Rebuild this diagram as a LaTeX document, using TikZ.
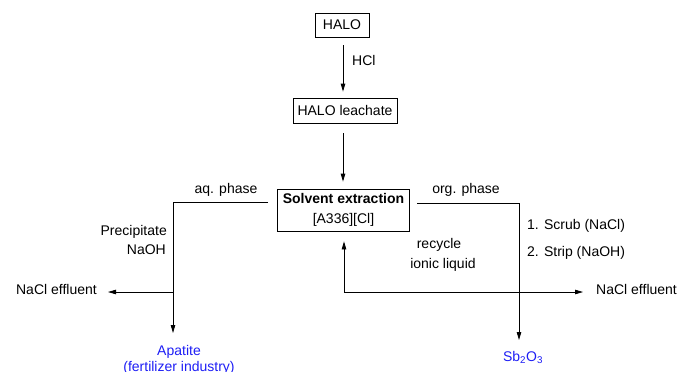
\documentclass[tikz,border=0pt]{standalone}
\usepackage{fontspec}
\setmainfont{Liberation Sans}
\usetikzlibrary{arrows.meta}
\definecolor{prodblue}{RGB}{30,30,245}
\begin{document}
\begin{tikzpicture}[x=1pt,y=-1pt,
  font=\fontsize{14}{16}\selectfont,
  box/.style={draw, line width=0.8pt, inner sep=0pt, anchor=center},
  lbl/.style={inner sep=0pt, anchor=mid},
  lblw/.style={inner sep=0pt, anchor=mid west},
  lble/.style={inner sep=0pt, anchor=mid east},
  prod/.style={inner sep=0pt, text=prodblue, align=center},
  arr/.style={line width=0.8pt, -{Triangle[length=8pt,width=4.5pt]}}]
\useasboundingbox (0,0) rectangle (680,372);
% boxes
\node[box, minimum width=54, minimum height=24] (halo) at (342,25) {HALO};
\node[box, minimum width=104, minimum height=25] (leach) at (345,110.5) {HALO leachate};
\node[box, minimum width=132, minimum height=42, align=center] (se) at (343.5,210)
  {\textbf{Solvent extraction}\\[4pt]{[A336][Cl]}};
% labels
\node[lblw] (hcl) at (352,63) {HCl};
\node[lbl] (aq) at (226,191) {aq. phase};
\node[lbl] (org) at (466,191) {org. phase};
\node[lble] (prec) at (167,233) {Precipitate};
\node[lble] (naoh) at (166,252) {NaOH};
\node[lbl] (rec) at (439,246) {recycle};
\node[lbl] (ionic) at (443,266) {ionic liquid};
\node[lblw] (scrub) at (527,227) {1. Scrub (NaCl)};
\node[lblw] (strip) at (527,254) {2. Strip (NaOH)};
\node[lble] (naclL) at (97,292) {NaCl effluent};
\node[lblw] (naclR) at (596,292) {NaCl effluent};
\node[prod, anchor=north] (apat) at (179,345) {Apatite\\(fertilizer industry)};
\node[prod, anchor=mid] (sb) at (523,358.5) {Sb\textsubscript{2}O\textsubscript{3}};
% coordinates
\coordinate (aqs) at (268,202);
\coordinate (aqc) at (173,202);
\coordinate (aqe) at (173,333);
\coordinate (j1) at (173,292);
\coordinate (ogs) at (417,203);
\coordinate (ogc) at (519,203);
\coordinate (oge) at (519,340);
\coordinate (rj) at (344,292);
\coordinate (setip) at ([yshift=-10pt]se.south);
% connectors
\draw[arr] ([xshift=1pt,yshift=-8pt]halo.south) -- ([xshift=-2pt,yshift=6pt]leach.north);
\draw[arr] ([xshift=-2pt,yshift=-10pt]leach.south) -- ([xshift=-0.5pt,yshift=7pt]se.north);
\draw[arr] (aqs) -- (aqc) -- (aqe);
\draw[arr] (j1) -- ([xshift=11pt]naclL.mid east);
\draw[arr] (ogs) -- (ogc) -- (oge);
\draw[arr] (rj) -- ([xshift=-13pt]naclR.mid west);
\draw[arr] (rj) -- (rj |- setip);
\end{tikzpicture}
\end{document}
